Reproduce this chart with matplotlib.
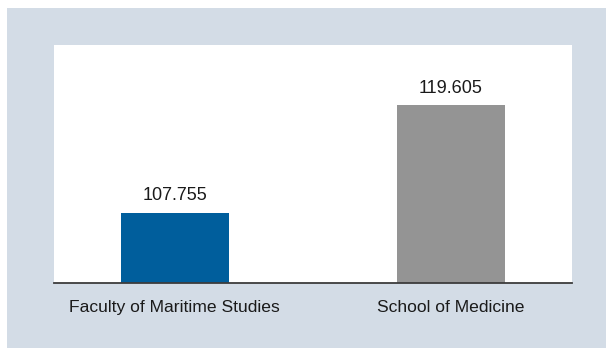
import matplotlib
matplotlib.use("Agg")
import matplotlib.pyplot as plt
from matplotlib.patches import Rectangle

# enrolment index per school
schools = ["Faculty of Maritime Studies", "School of Medicine"]
values = [107.755, 119.605]
value_labels = ["107.755", "119.605"]
bar_colors = ["#005e9c", "#949494"]

plt.rcParams["font.family"] = ["Liberation Sans", "DejaVu Sans"]

fig = plt.figure(figsize=(6.06, 3.48), dpi=100)
fig.patch.set_facecolor("white")
# tinted frame behind the plot panel
frame = Rectangle((7 / 606, 0), 1 - 7 / 606, 1 - 8 / 348,
                  transform=fig.transFigure, facecolor="#d3dce6",
                  edgecolor="none", zorder=-10)
fig.add_artist(frame)

ax = fig.add_axes([54 / 606, 65 / 348, 517.7 / 606, 238.3 / 348])
ax.set_facecolor("white")
ax.set_zorder(1)

x = range(len(schools))
ax.bar(x, [v - 100 for v in values], bottom=100, width=0.39,
       color=bar_colors, zorder=2)

for xi, v, lab in zip(x, values, value_labels):
    ax.annotate(lab, (xi, v), xytext=(0, 6), textcoords="offset points",
                ha="center", va="bottom", fontsize=13, color="#1a1a1a")

ax.set_xlim(-0.438, 1.438)
ax.set_ylim(100, 126.24)
ax.set_xticks(list(x))
ax.set_xticklabels(schools, fontsize=12.6, color="#1a1a1a")
ax.tick_params(axis="x", length=0, pad=12)
ax.set_yticks([])

for side in ["top", "left", "right"]:
    ax.spines[side].set_visible(False)
ax.spines["bottom"].set_color("#3c3c3c")
ax.spines["bottom"].set_linewidth(1.3)
ax.spines["bottom"].set_zorder(3)

fig.savefig("out.png", dpi=100)
